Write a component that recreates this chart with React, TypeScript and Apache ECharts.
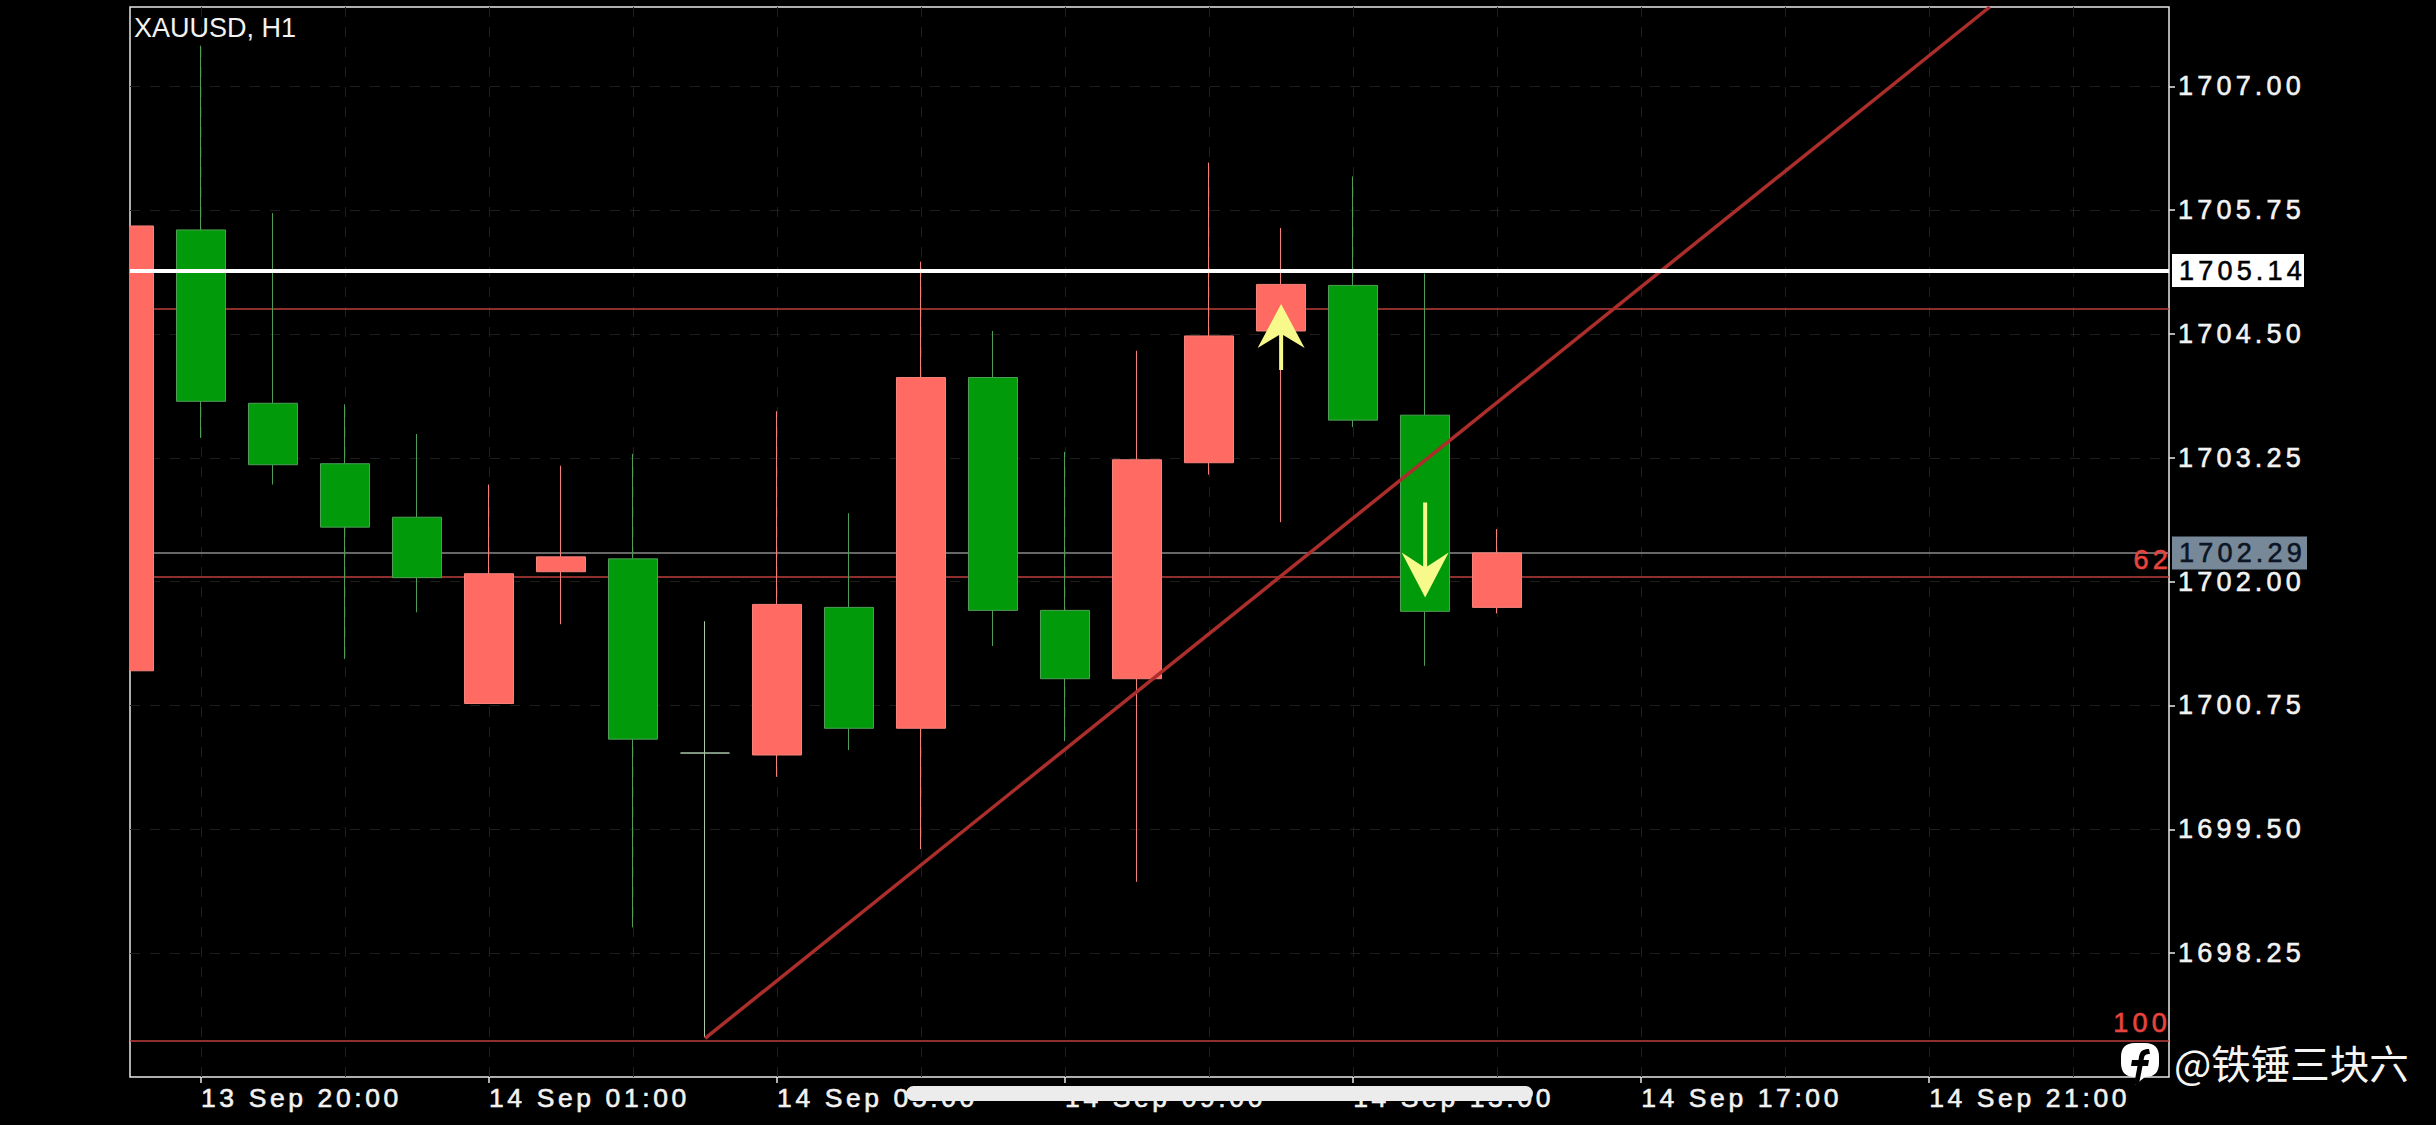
import React, { useEffect, useRef } from "react";
import * as echarts from "echarts";

const candleIndex = [-1, 0, 1, 2, 3, 4, 5, 6, 7, 8, 9, 10, 11, 12, 13, 14, 15, 16, 17, 18];
const opens = [1701.10, 1705.55, 1703.80, 1703.19, 1702.65, 1700.77, 1702.10, 1702.23, 1700.27, 1700.25, 1701.74, 1700.52, 1704.06, 1701.71, 1701.02, 1703.20, 1704.53, 1704.99, 1703.68, 1701.74];
const closes = [1705.59, 1703.82, 1703.18, 1702.55, 1702.04, 1702.08, 1702.25, 1700.41, 1700.27, 1701.77, 1700.52, 1704.06, 1701.71, 1701.02, 1703.23, 1704.48, 1705.00, 1703.63, 1701.70, 1702.29];
const lows = [1701.10, 1703.45, 1702.98, 1701.22, 1701.69, 1700.77, 1701.57, 1698.51, 1697.40, 1700.03, 1700.30, 1699.30, 1701.35, 1700.39, 1698.97, 1703.08, 1702.60, 1703.56, 1701.15, 1701.68];
const highs = [1705.59, 1707.41, 1705.72, 1703.79, 1703.49, 1702.98, 1703.17, 1703.29, 1701.60, 1703.72, 1702.69, 1705.23, 1704.53, 1703.31, 1704.33, 1706.23, 1705.57, 1706.09, 1705.11, 1702.53];

const priceTicks = [1698.25, 1699.5, 1700.75, 1702, 1703.25, 1704.5, 1705.75, 1707];
const timeTickIndex = [0, 4, 8, 12, 16, 20, 24];
const timeTickLabels = ["13 Sep 20:00", "14 Sep 01:00", "14 Sep 05:00", "14 Sep 09:00", "14 Sep 13:00", "14 Sep 17:00", "14 Sep 21:00"];
const gridLineIndex = [0, 2, 4, 6, 8, 10, 12, 14, 16, 18, 20, 22, 24, 26];

const trendLine = [[7, 1697.39], [24.84, 1707.8]];
const arrowUp = [15, 1704.47];
const arrowDown = [17, 1702.32];

const BUBBLE = "M14 0 H24 Q38 0 38 14 V20 Q38 34 24 34 L14 42 L15 34 H14 Q0 34 0 20 V14 Q0 0 14 0 Z";
const LETTER = "M28 6 L29 11 C25 11 23.5 12 23 15 L22.5 17 H28 L27 23 H21.5 L18 41 L13 42 L16.5 23 H10 L11 17 H17.5 L18 14 C19 8 22 6 28 6 Z";
echarts.graphic.registerShape("fbBubble", echarts.graphic.extendPath(BUBBLE, {}) as any);
echarts.graphic.registerShape("fbLetter", echarts.graphic.extendPath(LETTER, {}) as any);

const TRACKED_Y = "'Liberation Sans', Helvetica";
const TRACKED_X = "'Liberation Sans', Verdana";
const PLAIN = "'Liberation Sans', Arial";
const AXIS_COLOR = "#e8e8e8";
const GRID_COLOR = "#1e1e1e";
const LABEL_COLOR = "#f2f2f2";

export default function App() {
  const ref = useRef<HTMLDivElement>(null);
  useEffect(() => {
    const chart = echarts.init(ref.current!, null, { renderer: "svg" });
    const redLine = { color: "#bd3f3b", width: 1.5, type: "solid" as const };
    const xRange = { type: "value" as const, min: -0.986, max: 27.33, gridIndex: 0 };
    const fibLabel = {
      show: true,
      position: "insideEndTop",
      color: "#e8443e",
      fontSize: 27,
      fontFamily: TRACKED_Y,
      textBorderColor: "#e8443e",
      textBorderWidth: 0.6,
      offset: [6, 0],
    };
    chart.setOption({
      animation: false,
      backgroundColor: "#000",
      title: {
        text: "XAUUSD, H1",
        left: 134,
        top: 14,
        padding: 0,
        textStyle: { color: "#f2f2f2", fontSize: 27, fontWeight: "normal", fontFamily: PLAIN },
      },
      grid: {
        left: 130,
        top: 7,
        right: 267,
        bottom: 48,
        show: true,
        backgroundColor: "transparent",
        borderColor: AXIS_COLOR,
        borderWidth: 1.5,
      },
      xAxis: [
        {
          ...xRange,
          position: "bottom",
          axisLine: { show: false, onZero: false },
          splitLine: { show: false },
          axisTick: { show: true, length: 6, customValues: timeTickIndex, lineStyle: { color: AXIS_COLOR, width: 1.5 } },
          axisLabel: {
            customValues: timeTickIndex,
            formatter: (v: number) => timeTickLabels[timeTickIndex.indexOf(v)] ?? "",
            color: LABEL_COLOR,
            fontSize: 26.5,
            fontFamily: TRACKED_X,
            textBorderColor: LABEL_COLOR,
            textBorderWidth: 0.6,
            align: "left",
            margin: 7,
            hideOverlap: false,
          },
        },
        {
          ...xRange,
          position: "bottom",
          axisLine: { show: false, onZero: false },
          axisLabel: { show: false },
          axisTick: { show: false, customValues: gridLineIndex },
          splitLine: { show: true, lineStyle: { color: GRID_COLOR, width: 1, type: [10, 10] } },
        },
      ],
      yAxis: {
        type: "value",
        position: "right",
        min: 1697,
        max: 1707.8,
        axisLine: { show: false, onZero: false },
        axisTick: { show: true, length: 6, customValues: priceTicks, lineStyle: { color: AXIS_COLOR, width: 1.5 } },
        axisLabel: {
          customValues: priceTicks,
          formatter: (v: number) => v.toFixed(2),
          color: LABEL_COLOR,
          fontSize: 27,
          fontFamily: TRACKED_Y,
          textBorderColor: LABEL_COLOR,
          textBorderWidth: 0.6,
          margin: 9,
          hideOverlap: false,
        },
        splitLine: { show: true, lineStyle: { color: GRID_COLOR, width: 1, type: [10, 10] } },
      },
      series: [
        {
          type: "line",
          name: "levels",
          data: [],
          z: 1,
          markLine: {
            z: 1,
            silent: true,
            symbol: "none",
            animation: false,
            data: [
              { yAxis: 1704.75, lineStyle: redLine, label: { show: false } },
              { yAxis: 1702.05, lineStyle: redLine, label: { ...fibLabel, formatter: "62", distance: 3 } },
              { yAxis: 1697.37, lineStyle: redLine, label: { ...fibLabel, formatter: "100", distance: 4 } },
              {
                yAxis: 1702.29,
                lineStyle: { color: "#8a8a8a", width: 1.5, type: "solid" },
                label: {
                  show: true,
                  formatter: "1702.29",
                  position: "end",
                  distance: 3,
                  color: "#0b1524",
                  backgroundColor: "#778899",
                  fontSize: 27,
                  fontFamily: TRACKED_Y,
                  textBorderColor: "#0b1524",
                  textBorderWidth: 0.6,
                  width: 121,
                  height: 33,
                  lineHeight: 33,
                  padding: [0, 7, 0, 7],
                },
              },
            ],
          },
        },
        {
          type: "candlestick",
          name: "XAUUSD",
          z: 2,
          barWidth: 49,
          itemStyle: {
            color: "#ff6b63",
            color0: "#009a0a",
            borderColor: "#f5827a",
            borderColor0: "#4f9e57",
            borderColorDoji: "#a8c8a8",
            borderWidth: 1,
          },
          data: candleIndex.map((x, i) => [x, opens[i], closes[i], lows[i], highs[i]]),
        },
        {
          type: "line",
          name: "trend",
          z: 3,
          showSymbol: false,
          symbol: "none",
          lineStyle: { color: "#ac2e2b", width: 3.5 },
          data: trendLine,
        },
        {
          type: "line",
          name: "price",
          data: [],
          z: 4,
          markLine: {
            z: 6,
            silent: true,
            symbol: "none",
            animation: false,
            data: [
              {
                yAxis: 1705.14,
                lineStyle: { color: "#ffffff", width: 4, type: "solid" },
                label: {
                  show: true,
                  formatter: "1705.14",
                  position: "end",
                  distance: 3,
                  color: "#000",
                  backgroundColor: "#fff",
                  fontSize: 27,
                  fontFamily: TRACKED_Y,
                  textBorderColor: "#000",
                  textBorderWidth: 0.6,
                  width: 118,
                  height: 33,
                  lineHeight: 33,
                  padding: [0, 7, 0, 7],
                },
              },
            ],
          },
        },
        {
          type: "scatter",
          name: "buy",
          z: 5,
          silent: true,
          symbol: "path://M23.5 0 L47 44 L25.5 31 L25.5 66 L21.5 66 L21.5 31 L0 44 Z",
          symbolSize: [47, 66],
          itemStyle: { color: "#f7f98a", opacity: 1 },
          data: [arrowUp],
        },
        {
          type: "scatter",
          name: "sell",
          z: 5,
          silent: true,
          symbol: "path://M21.5 0 L25.5 0 L25.5 64 L47 50 L23.5 95 L0 50 L21.5 64 Z",
          symbolSize: [47, 95],
          itemStyle: { color: "#f7f98a", opacity: 1 },
          data: [arrowDown],
        },
      ],
      graphic: [
        {
          type: "rect",
          z: 90,
          silent: true,
          shape: { x: 0, y: 0, width: 129, height: 1125 },
          style: { fill: "#000" },
        },
        {
          type: "rect",
          z: 100,
          silent: true,
          shape: { x: 906, y: 1086, width: 627, height: 15, r: 7.5 },
          style: { fill: "#ececec" },
        },
        {
          type: "group",
          x: 2121,
          y: 1043,
          z: 100,
          silent: true,
          children: [
            { type: "fbBubble", z: 100, style: { fill: "#fff" } },
            { type: "fbLetter", z: 101, style: { fill: "#000" } },
          ],
        },
        {
          type: "text",
          x: 2174,
          y: 1061,
          z: 100,
          silent: true,
          style: {
            text: "@铁锤三块六",
            fill: "#f5f5f5",
            fontSize: 39.5,
            fontFamily: "'Noto Sans CJK SC', Arial",
            verticalAlign: "middle",
            align: "left",
          },
        },
      ],
    });
    return () => chart.dispose();
  }, []);
  return (
    <div style={{ position: "fixed", left: 0, top: 0, width: 2436, height: 1125, background: "#000" }}>
      <style>{`text[style*="Helvetica"]{letter-spacing:4.2px} text[style*="Verdana"]{letter-spacing:3.6px}`}</style>
      <div ref={ref} style={{ width: 2436, height: 1125 }} />
    </div>
  );
}
